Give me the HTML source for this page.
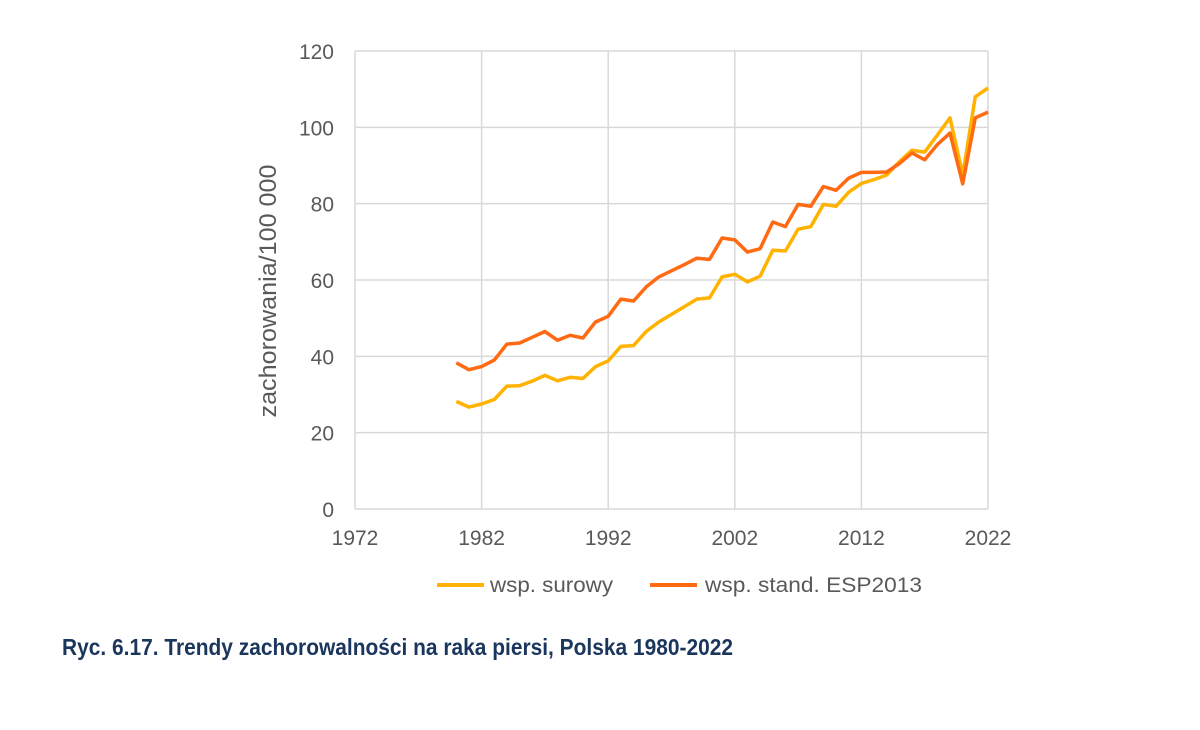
<!DOCTYPE html>
<html><head><meta charset="utf-8"><style>
body{margin:0;background:#fff;}
svg{display:block;font-family:"Liberation Sans",sans-serif;}
</style></head><body>
<svg width="1200" height="730" viewBox="0 0 1200 730">
<g id="grid"></g>
<g id="axes"></g>
<g id="lines"></g>
<text x="276" y="291" transform="rotate(-90 276 291)" text-anchor="middle" font-size="24" fill="#595959" textLength="253" lengthAdjust="spacingAndGlyphs">zachorowania/100 000</text>
<g>
<line x1="437" y1="585" x2="484" y2="585" stroke="#ffb300" stroke-width="4"/>
<text x="490" y="592" font-size="21" fill="#595959" textLength="123" lengthAdjust="spacingAndGlyphs">wsp. surowy</text>
<line x1="650" y1="585" x2="697" y2="585" stroke="#ff6a13" stroke-width="4"/>
<text x="705" y="592" font-size="21" fill="#595959" textLength="217" lengthAdjust="spacingAndGlyphs">wsp. stand. ESP2013</text>
</g>
<text x="62" y="655" font-size="23" font-weight="bold" fill="#1b365d" textLength="671" lengthAdjust="spacingAndGlyphs">Ryc. 6.17. Trendy zachorowalności na raka piersi, Polska 1980-2022</text>
</svg>
<script>
const years=[];for(let y=1980;y<=2022;y++)years.push(y);
const surowy=[28.2,26.7,27.5,28.7,32.2,32.3,33.5,35,33.6,34.5,34.2,37.3,38.8,42.6,42.8,46.5,49,51,53,55,55.3,60.8,61.5,59.5,61,67.8,67.6,73.3,74,79.8,79.3,83,85.3,86.3,87.5,91,94,93.5,98,102.5,87.5,108,110.3];
const stand=[38.3,36.5,37.3,39,43.2,43.5,45,46.5,44.2,45.5,44.8,49,50.5,55,54.5,58.2,60.8,62.4,64,65.7,65.4,71,70.5,67.3,68.2,75.2,74,79.8,79.3,84.5,83.5,86.7,88.2,88.2,88.3,90.5,93.3,91.5,95.5,98.5,85.2,102.5,104];
const xTicks=[1972,1982,1992,2002,2012,2022];
const yTicks=[0,20,40,60,80,100,120];
const X0=355,X1=988,Y0=509,Y1=51;
const sx=v=>X0+(v-1972)/(2022-1972)*(X1-X0);
const sy=v=>Y0-v/120*(Y0-Y1);
const NS="http://www.w3.org/2000/svg";
function mk(tag,attrs,parent){const e=document.createElementNS(NS,tag);for(const k in attrs)e.setAttribute(k,attrs[k]);parent.appendChild(e);return e;}
const grid=document.getElementById('grid'),axes=document.getElementById('axes'),lines=document.getElementById('lines');
yTicks.forEach(t=>{
 const l=mk('line',{x1:X0,x2:X1,y1:sy(t),y2:sy(t),stroke:'#d9d9d9','stroke-width':1.5},grid);
 
 
 const tx=mk('text',{x:334,y:sy(t)+8,'text-anchor':'end','font-size':21,fill:'#595959'},axes);
 tx.textContent=t;
 
 
});
xTicks.forEach(t=>{
 const l=mk('line',{x1:sx(t),x2:sx(t),y1:Y1,y2:Y0,stroke:'#d9d9d9','stroke-width':1.5},grid);
 
 
 const tx=mk('text',{x:sx(t),y:545,'text-anchor':'middle','font-size':21,fill:'#595959'},axes);
 tx.textContent=t;
 
 
});
function series(vals,color,name){
 const d=vals.map((v,i)=>(i?'L':'M')+sx(years[i]).toFixed(1)+','+sy(v).toFixed(1)).join('');
 const p=mk('path',{d:d,fill:'none',stroke:color,'stroke-width':3.5,'stroke-linejoin':'round'},lines);
 
 
}
series(surowy,'#ffb300','line-wsp-surowy');
series(stand,'#ff6a13','line-wsp-stand-esp2013');
</script>
</body></html>
